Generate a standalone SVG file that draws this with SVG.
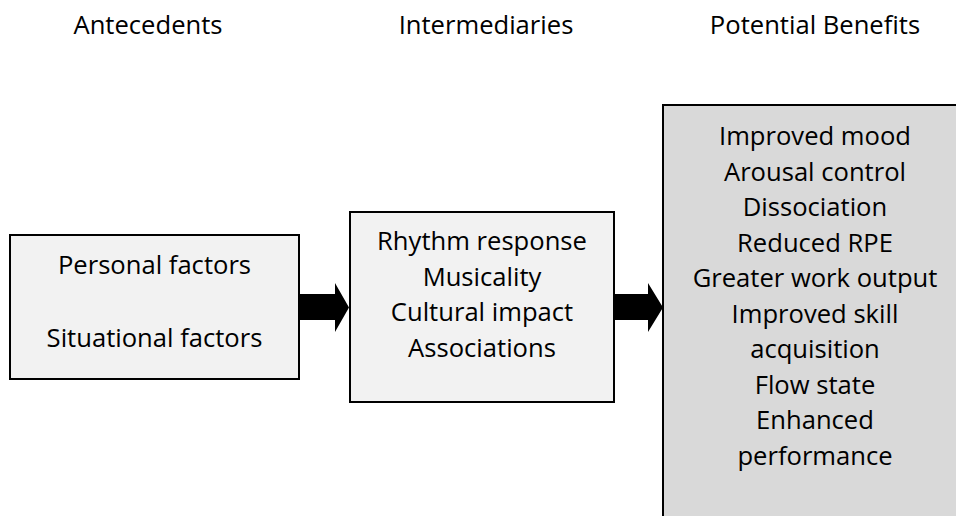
<svg xmlns="http://www.w3.org/2000/svg" width="956" height="516" viewBox="0 0 956 516">
<style>
text{font-family:"Open Sans",Lato,"Liberation Sans",sans-serif;font-size:25.6px;fill:#000;text-anchor:middle}
.box{stroke:#000;stroke-width:2}
.arrow{fill:#000}
</style>
<rect width="956" height="516" fill="#fff"/>
<g id="headers">
<text x="148" y="34">Antecedents</text>
<text x="486" y="34">Intermediaries</text>
<text x="815" y="34">Potential Benefits</text>
</g>
<g id="antecedents">
<rect class="box" x="10" y="235" width="289" height="144" fill="#f2f2f2"/>
<text x="154.5" y="274">Personal factors</text>
<text x="154.5" y="347">Situational factors</text>
</g>
<g id="intermediaries">
<rect class="box" x="350" y="212" width="264" height="190" fill="#f2f2f2"/>
<text x="482" y="250">Rhythm response</text>
<text x="482" y="285.5">Musicality</text>
<text x="482" y="321">Cultural impact</text>
<text x="482" y="356.5">Associations</text>
</g>
<g id="benefits">
<rect class="box" x="663" y="105" width="320" height="440" fill="#d9d9d9"/>
<text x="815" y="145">Improved mood</text>
<text x="815" y="180.5">Arousal control</text>
<text x="815" y="216">Dissociation</text>
<text x="815" y="251.5">Reduced RPE</text>
<text x="815" y="287">Greater work output</text>
<text x="815" y="322.5">Improved skill</text>
<text x="815" y="358">acquisition</text>
<text x="815" y="393.5">Flow state</text>
<text x="815" y="429">Enhanced</text>
<text x="815" y="464.5">performance</text>
</g>
<g id="connectors">
<polygon class="arrow" points="299,294 335,294 335,283 349,307.5 335,332 335,320 299,320"/>
<polygon class="arrow" points="614,294 648,294 648,283 663,307.5 648,332 648,320 614,320"/>
</g>
</svg>
